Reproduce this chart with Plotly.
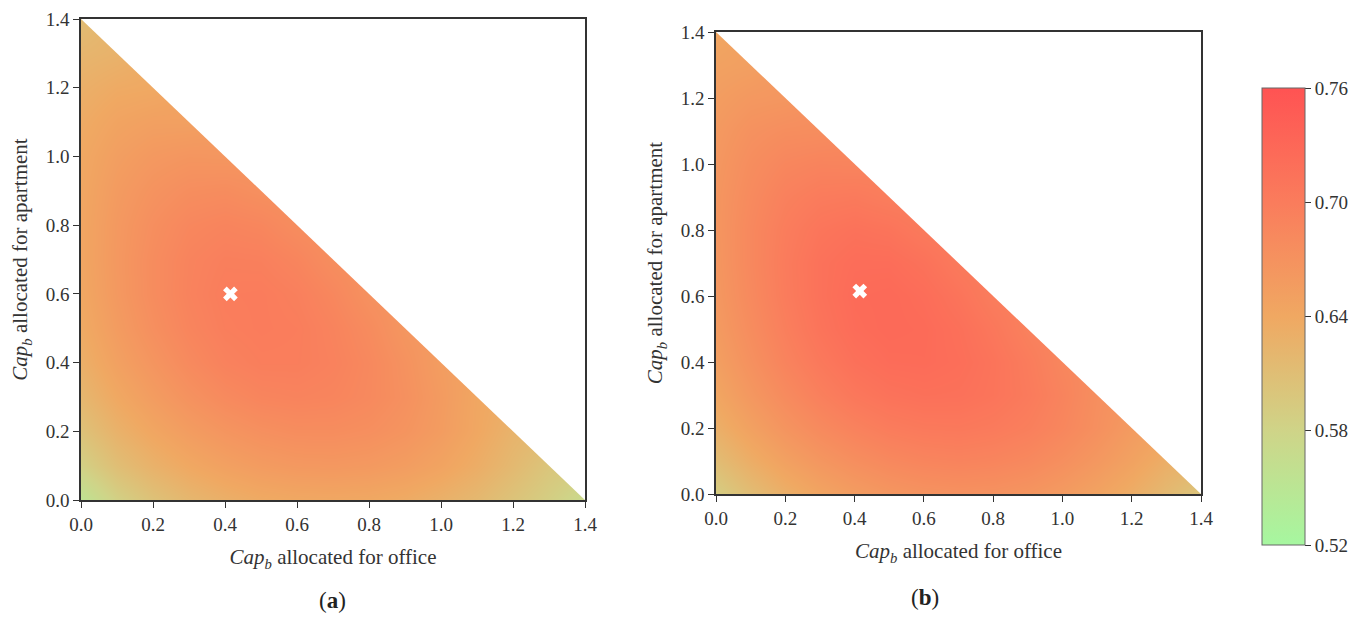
import numpy as np
import plotly.graph_objects as go

# grid coordinates (Cap_b for office = x, Cap_b for apartment = y)
grid_x = [round(0.1 * i, 1) for i in range(15)]
grid_y = [round(0.1 * i, 1) for i in range(15)]

# panel (a) values, rows by apartment share (y = 0.0 .. 1.4), columns by office share
z_a_rows = [
    [0.555, 0.585, 0.605, 0.620, 0.630, 0.637, 0.640, 0.641, 0.640, 0.636, 0.628, 0.618, 0.603, 0.588, 0.570],
    [0.585, 0.610, 0.627, 0.640, 0.650, 0.657, 0.661, 0.662, 0.660, 0.655, 0.646, 0.633, 0.617, 0.600],
    [0.605, 0.627, 0.643, 0.656, 0.666, 0.673, 0.677, 0.677, 0.674, 0.667, 0.656, 0.641, 0.625],
    [0.620, 0.640, 0.656, 0.670, 0.681, 0.688, 0.690, 0.688, 0.682, 0.672, 0.658, 0.642],
    [0.630, 0.650, 0.666, 0.681, 0.692, 0.697, 0.697, 0.692, 0.683, 0.670, 0.655],
    [0.637, 0.657, 0.674, 0.688, 0.697, 0.700, 0.698, 0.690, 0.679, 0.664],
    [0.641, 0.661, 0.678, 0.691, 0.699, 0.700, 0.695, 0.685, 0.671],
    [0.643, 0.662, 0.678, 0.690, 0.696, 0.695, 0.688, 0.676],
    [0.643, 0.661, 0.675, 0.685, 0.689, 0.686, 0.677],
    [0.642, 0.658, 0.669, 0.676, 0.678, 0.673],
    [0.640, 0.653, 0.661, 0.665, 0.664],
    [0.636, 0.646, 0.651, 0.651],
    [0.630, 0.637, 0.639],
    [0.622, 0.626],
    [0.612],
]

# panel (b) values
z_b_rows = [
    [0.590, 0.612, 0.630, 0.645, 0.656, 0.664, 0.669, 0.671, 0.670, 0.666, 0.658, 0.647, 0.633, 0.617, 0.600],
    [0.612, 0.633, 0.650, 0.664, 0.675, 0.683, 0.688, 0.690, 0.688, 0.683, 0.674, 0.662, 0.648, 0.632],
    [0.630, 0.650, 0.667, 0.681, 0.692, 0.700, 0.704, 0.705, 0.702, 0.696, 0.686, 0.673, 0.658],
    [0.643, 0.663, 0.680, 0.695, 0.707, 0.714, 0.717, 0.716, 0.711, 0.702, 0.690, 0.675],
    [0.652, 0.672, 0.690, 0.705, 0.717, 0.723, 0.724, 0.720, 0.712, 0.700, 0.686],
    [0.658, 0.678, 0.696, 0.712, 0.723, 0.727, 0.725, 0.718, 0.707, 0.693],
    [0.662, 0.682, 0.700, 0.715, 0.725, 0.727, 0.722, 0.712, 0.699],
    [0.664, 0.684, 0.701, 0.715, 0.722, 0.722, 0.715, 0.703],
    [0.665, 0.684, 0.699, 0.710, 0.715, 0.712, 0.703],
    [0.665, 0.681, 0.694, 0.701, 0.703, 0.698],
    [0.663, 0.677, 0.686, 0.690, 0.689],
    [0.660, 0.671, 0.676, 0.677],
    [0.655, 0.662, 0.664],
    [0.649, 0.652],
    [0.642],
]

# optimum markers
opt_a_x, opt_a_y = [0.415], [0.600]
opt_b_x, opt_b_y = [0.415], [0.615]

cbar_ticks = [0.52, 0.58, 0.64, 0.70, 0.76]
cbar_text = ["0.52", "0.58", "0.64", "0.70", "0.76"]
axis_ticks = [0.0, 0.2, 0.4, 0.6, 0.8, 1.0, 1.2, 1.4]
X_MAX = 1.4


def to_grid(rows):
    n = len(grid_x)
    out = np.full((len(grid_y), n), np.nan)
    for j, r in enumerate(rows):
        out[j, :len(r)] = r
    return out


SERIF = "Liberation Serif, Times New Roman, serif"
TXT = "#333333"
colorscale = [
    [0.00, "#a6f7a0"],
    [0.25, "#cfd488"],
    [0.50, "#f0a862"],
    [0.75, "#fa7c5c"],
    [1.00, "#ff5353"],
]

fig = go.Figure()

panels = [
    ("x", "y", z_a_rows, opt_a_x, opt_a_y),
    ("x2", "y2", z_b_rows, opt_b_x, opt_b_y),
]
for xa, ya, rows, ox, oy in panels:
    fig.add_trace(go.Heatmap(
        x=grid_x, y=grid_y, z=to_grid(rows), coloraxis="coloraxis",
        zsmooth="best", connectgaps=True, xaxis=xa, yaxis=ya,
        hoverinfo="skip"))
    # white mask above the feasible triangle x + y <= 1.4
    fig.add_trace(go.Scatter(
        x=[-0.1, X_MAX + 0.1, X_MAX + 0.1, -0.1],
        y=[X_MAX + 0.1, X_MAX + 0.1, -0.1, X_MAX + 0.1],
        fill="toself", fillcolor="white", mode="lines",
        line=dict(width=0, color="white"), xaxis=xa, yaxis=ya,
        showlegend=False, hoverinfo="skip"))
    fig.add_trace(go.Scatter(
        x=ox, y=oy, mode="markers", xaxis=xa, yaxis=ya,
        marker=dict(symbol="x", size=13, color="white", line=dict(width=0)),
        showlegend=False, hoverinfo="skip"))

xtitle = "<i>Cap</i><sub><i>b</i></sub> allocated for office"
ytitle = "<i>Cap</i><sub><i>b</i></sub> allocated for apartment"

common = dict(
    range=[0, X_MAX], tickvals=axis_ticks, tickformat=".1f",
    ticks="outside", ticklen=6, tickwidth=1.2, tickcolor=TXT,
    showline=True, linecolor=TXT, linewidth=1.5, mirror=True,
    showgrid=False, zeroline=False, automargin=False,
    tickfont=dict(family=SERIF, size=19, color=TXT),
)

W, H = 1365, 621
ax_a = dict(x0=81, x1=585, top=19, bottom=500)
ax_b = dict(x0=716, x1=1201, top=32, bottom=494)


def dom(a):
    return [a["x0"] / W, a["x1"] / W], [(H - a["bottom"]) / H, (H - a["top"]) / H]


dxa, dya = dom(ax_a)
dxb, dyb = dom(ax_b)
tfont = dict(family=SERIF, size=21, color=TXT)

fig.update_layout(
    width=W, height=H, margin=dict(l=0, r=0, t=0, b=0),
    paper_bgcolor="white", plot_bgcolor="white", showlegend=False,
    xaxis=dict(domain=dxa, anchor="y", title=dict(text=xtitle, standoff=16, font=tfont), **common),
    yaxis=dict(domain=dya, anchor="x", title=dict(text=ytitle, standoff=12, font=tfont), **common),
    xaxis2=dict(domain=dxb, anchor="y2", title=dict(text=xtitle, standoff=16, font=tfont), **common),
    yaxis2=dict(domain=dyb, anchor="x2", title=dict(text=ytitle, standoff=12, font=tfont), **common),
    coloraxis=dict(
        cmin=0.52, cmax=0.76, colorscale=colorscale,
        colorbar=dict(
            x=1262 / W, xanchor="left", y=(H - (88 + 545) / 2) / H, yanchor="middle",
            len=(545 - 88) / H, lenmode="fraction", thickness=43, thicknessmode="pixels",
            outlinewidth=1, outlinecolor="#666666", xpad=0, ypad=0,
            tickvals=cbar_ticks, ticktext=cbar_text, ticks="outside", ticklen=6,
            tickcolor=TXT, tickfont=dict(family=SERIF, size=19, color=TXT),
        ),
    ),
    annotations=[
        dict(text="(<b>a</b>)", x=332 / W, y=(H - 600) / H, xref="paper", yref="paper",
             xanchor="center", yanchor="middle",
             showarrow=False, font=dict(family=SERIF, size=23, color="#222222")),
        dict(text="(<b>b</b>)", x=925 / W, y=(H - 597) / H, xref="paper", yref="paper",
             xanchor="center", yanchor="middle",
             showarrow=False, font=dict(family=SERIF, size=23, color="#222222")),
    ],
)

fig.write_html("out.html")
